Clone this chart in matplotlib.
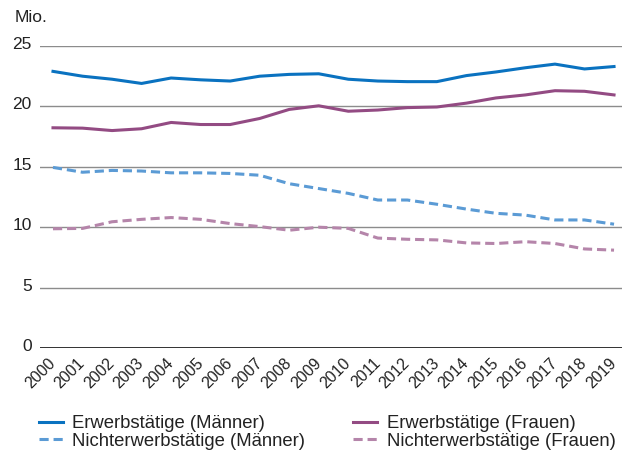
import matplotlib.pyplot as plt
import matplotlib.transforms as mtransforms

plt.rcParams['font.family'] = ['Liberation Sans', 'DejaVu Sans']

# Daten (Mio.)
years = list(range(2000, 2020))
erw_maenner = [22.9, 22.5, 22.25, 21.9, 22.35, 22.2, 22.1, 22.5, 22.65, 22.7,
               22.25, 22.1, 22.05, 22.05, 22.55, 22.85, 23.2, 23.5, 23.1, 23.3]
erw_frauen = [18.23, 18.2, 18.0, 18.15, 18.67, 18.5, 18.5, 19.0, 19.75, 20.05,
              19.6, 19.7, 19.9, 19.95, 20.27, 20.7, 20.95, 21.3, 21.25, 20.95]
nerw_maenner = [14.95, 14.55, 14.7, 14.65, 14.5, 14.5, 14.45, 14.3, 13.6, 13.2,
                12.8, 12.25, 12.25, 11.9, 11.5, 11.15, 11.0, 10.6, 10.6, 10.25]
nerw_frauen = [9.87, 9.9, 10.45, 10.65, 10.8, 10.65, 10.3, 10.05, 9.75, 10.0,
               9.9, 9.1, 9.0, 8.95, 8.7, 8.65, 8.8, 8.65, 8.2, 8.1]
yticks = [0, 5, 10, 15, 20, 25]

fig = plt.figure(figsize=(6.22, 4.57), dpi=100)
ax = fig.add_axes([40 / 622, 1 - 348 / 457, 582 / 622, (348 - 46) / 457])

# Gitterlinien
for t in yticks:
    ax.axhline(t, color='#222222' if t == 0 else '#8c8c8c', lw=1.3 if t == 0 else 1.0, zorder=1)

ax.plot(years, erw_maenner, color='#0a72c0', lw=2.2, label='Erwerbstätige (Männer)', zorder=3)
ax.plot(years, nerw_maenner, color='#5b9bd5', lw=2.2, ls=(0, (3, 1.6)),
        label='Nichterwerbstätige (Männer)', zorder=3)
ax.plot(years, erw_frauen, color='#934b83', lw=2.2, label='Erwerbstätige (Frauen)', zorder=3)
ax.plot(years, nerw_frauen, color='#b585aa', lw=2.2, ls=(0, (3, 1.6)),
        label='Nichterwerbstätige (Frauen)', zorder=3)

ax.set_xlim(1999.56, 2019.27)
ax.set_ylim(0, 25)
for s in ax.spines.values():
    s.set_visible(False)

ax.set_yticks(yticks)
ax.set_yticklabels([str(t) for t in yticks], fontsize=12.5, color='#222222')
ax.tick_params(axis='y', length=0, pad=6)
shift = mtransforms.ScaledTranslation(0, 3 / 100, fig.dpi_scale_trans)
for lbl in ax.get_yticklabels():
    lbl.set_transform(lbl.get_transform() + shift)

ax.set_xticks(years)
ax.set_xticklabels([str(y) for y in years], rotation=45, ha='right', va='center',
                   rotation_mode='anchor', fontsize=11.5, color='#222222')
ax.tick_params(axis='x', length=0, pad=9)

fig.text(15 / 622, 1 - 17 / 457, 'Mio.', fontsize=12.5, color='#222222', va='center', ha='left')

fig.legend(loc='upper left', bbox_to_anchor=(39 / 622, 1 - 415 / 457), ncol=2,
           frameon=False, fontsize=13.3, handlelength=1.3, handletextpad=0.5,
           columnspacing=2.6, labelspacing=0.05, borderaxespad=0, borderpad=0,
           labelcolor='#222222')

fig.savefig('out.png', dpi=100)
